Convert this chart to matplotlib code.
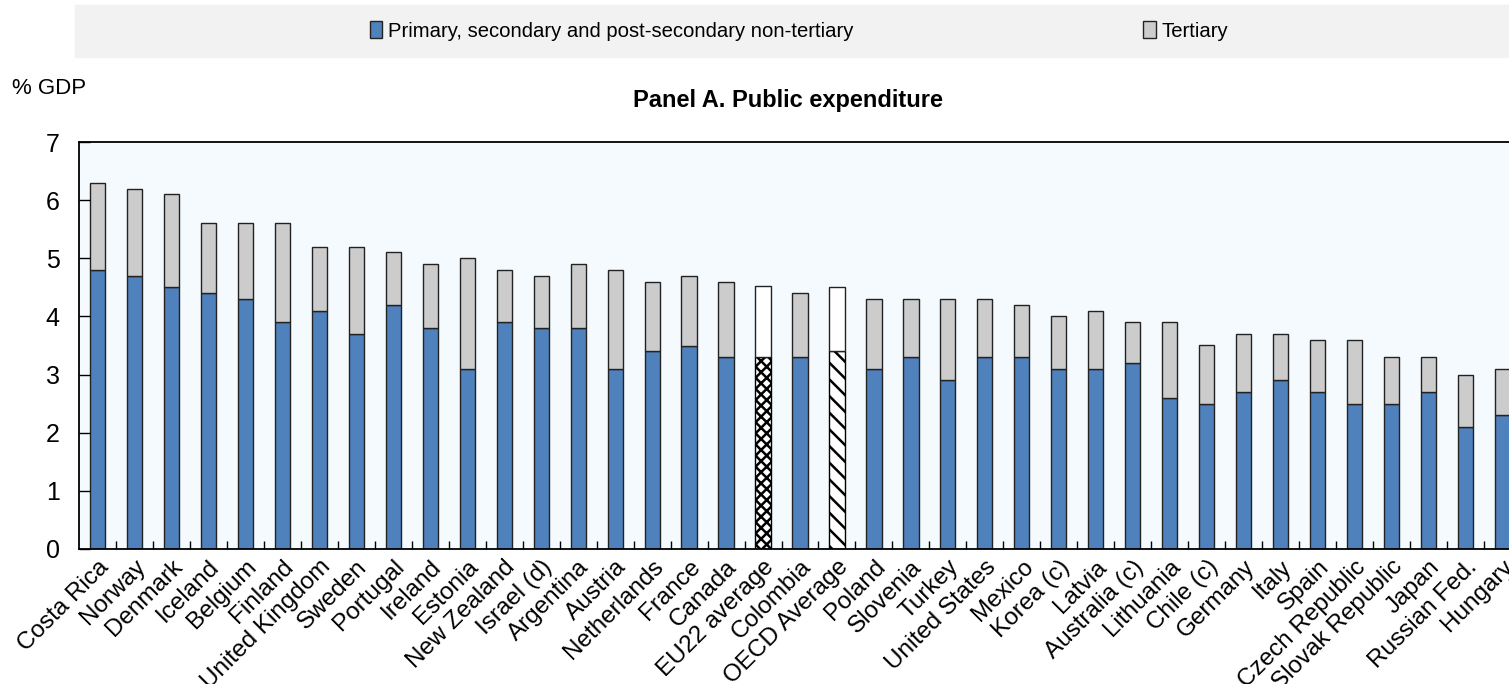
import matplotlib.pyplot as plt
from matplotlib.patches import Rectangle, Patch
import numpy as np

# Data (% of GDP)
countries = ['Costa Rica', 'Norway', 'Denmark', 'Iceland', 'Belgium', 'Finland',
             'United Kingdom', 'Sweden', 'Portugal', 'Ireland', 'Estonia',
             'New Zealand', 'Israel (d)', 'Argentina', 'Austria', 'Netherlands',
             'France', 'Canada', 'EU22 average', 'Colombia', 'OECD Average',
             'Poland', 'Slovenia', 'Turkey', 'United States', 'Mexico', 'Korea (c)',
             'Latvia', 'Australia (c)', 'Lithuania', 'Chile (c)', 'Germany', 'Italy',
             'Spain', 'Czech Republic', 'Slovak Republic', 'Japan', 'Russian Fed.',
             'Hungary']
primary = [4.8, 4.7, 4.5, 4.4, 4.3, 3.9, 4.1, 3.7, 4.2, 3.8, 3.1, 3.9, 3.8, 3.8,
           3.1, 3.4, 3.5, 3.3, 3.3, 3.3, 3.4, 3.1, 3.3, 2.9, 3.3, 3.3, 3.1, 3.1,
           3.2, 2.6, 2.5, 2.7, 2.9, 2.7, 2.5, 2.5, 2.7, 2.1, 2.3]
total = [6.3, 6.2, 6.1, 5.6, 5.6, 5.6, 5.2, 5.2, 5.1, 4.9, 5.0, 4.8, 4.7, 4.9,
         4.8, 4.6, 4.7, 4.6, 4.52, 4.4, 4.5, 4.3, 4.3, 4.3, 4.3, 4.2, 4.0, 4.1,
         3.9, 3.9, 3.5, 3.7, 3.7, 3.6, 3.6, 3.3, 3.3, 3.0, 3.1]
tertiary = [t - p for t, p in zip(total, primary)]

plt.rcParams['font.family'] = ['Liberation Sans', 'DejaVu Sans']
plt.rcParams['hatch.linewidth'] = 1.8

blue = '#4f81bd'
grey = '#cccccc'

fig = plt.figure(figsize=(15.09, 6.84), dpi=100)
ax = fig.add_axes([79 / 1509, 135 / 684, 1442 / 1509, 407 / 684])
ax.set_facecolor('#f4fafe')

x = np.arange(len(countries))
width = 0.41

for i, c in enumerate(countries):
    if c == 'EU22 average':
        ax.bar(x[i], primary[i], width, color='white', edgecolor='black',
               hatch='xxx', linewidth=1.0)
        ax.bar(x[i], tertiary[i], width, bottom=primary[i], color='white',
               edgecolor='#222222', linewidth=1.0)
    elif c == 'OECD Average':
        ax.bar(x[i], primary[i], width, color='white', edgecolor='black',
               hatch='\\\\', linewidth=1.0)
        ax.bar(x[i], tertiary[i], width, bottom=primary[i], color='white',
               edgecolor='#222222', linewidth=1.0)
    else:
        ax.bar(x[i], primary[i], width, color=blue, edgecolor='#222222', linewidth=1.0)
        ax.bar(x[i], tertiary[i], width, bottom=primary[i], color=grey,
               edgecolor='#222222', linewidth=1.0)

ax.set_xlim(-0.5, len(countries) - 0.5)
ax.set_ylim(0, 7)
ax.set_yticks(range(8))
ax.tick_params(axis='y', direction='in', length=8, width=1, labelsize=18, pad=14)
ax.set_xticks(x)
ax.set_xticklabels(countries, rotation=45, ha='right', rotation_mode='anchor', fontsize=17.5)
ax.tick_params(axis='x', which='major', length=0, pad=5)
ax.set_xticks(x[:-1] + 0.5, minor=True)
ax.tick_params(axis='x', which='minor', direction='in', length=6, width=1)
for s in ax.spines.values():
    s.set_linewidth(1.3)

# legend strip
fig.patches.append(Rectangle((75 / 1509, 627 / 684), 1434 / 1509, 52 / 684,
                             transform=fig.transFigure, color='#f2f2f2', zorder=0))
handles = [Patch(facecolor=blue, edgecolor='#222222', label='Primary, secondary and post-secondary non-tertiary'),
           Patch(facecolor=grey, edgecolor='#222222', label='Tertiary')]
fig.legend(handles=handles, loc='center', bbox_to_anchor=(799 / 1509, 653 / 684), ncol=2,
           frameon=False, fontsize=14.6, handlelength=0.6, handleheight=0.9,
           handletextpad=0.3, columnspacing=14.3)

fig.text(12 / 1509, 1 - 89 / 684, '% GDP', fontsize=16, va='center', ha='left')
fig.text(788 / 1509, 1 - 101 / 684, 'Panel A. Public expenditure', fontsize=17,
         fontweight='bold', va='center', ha='center')

fig.savefig('out.png', dpi=100)
